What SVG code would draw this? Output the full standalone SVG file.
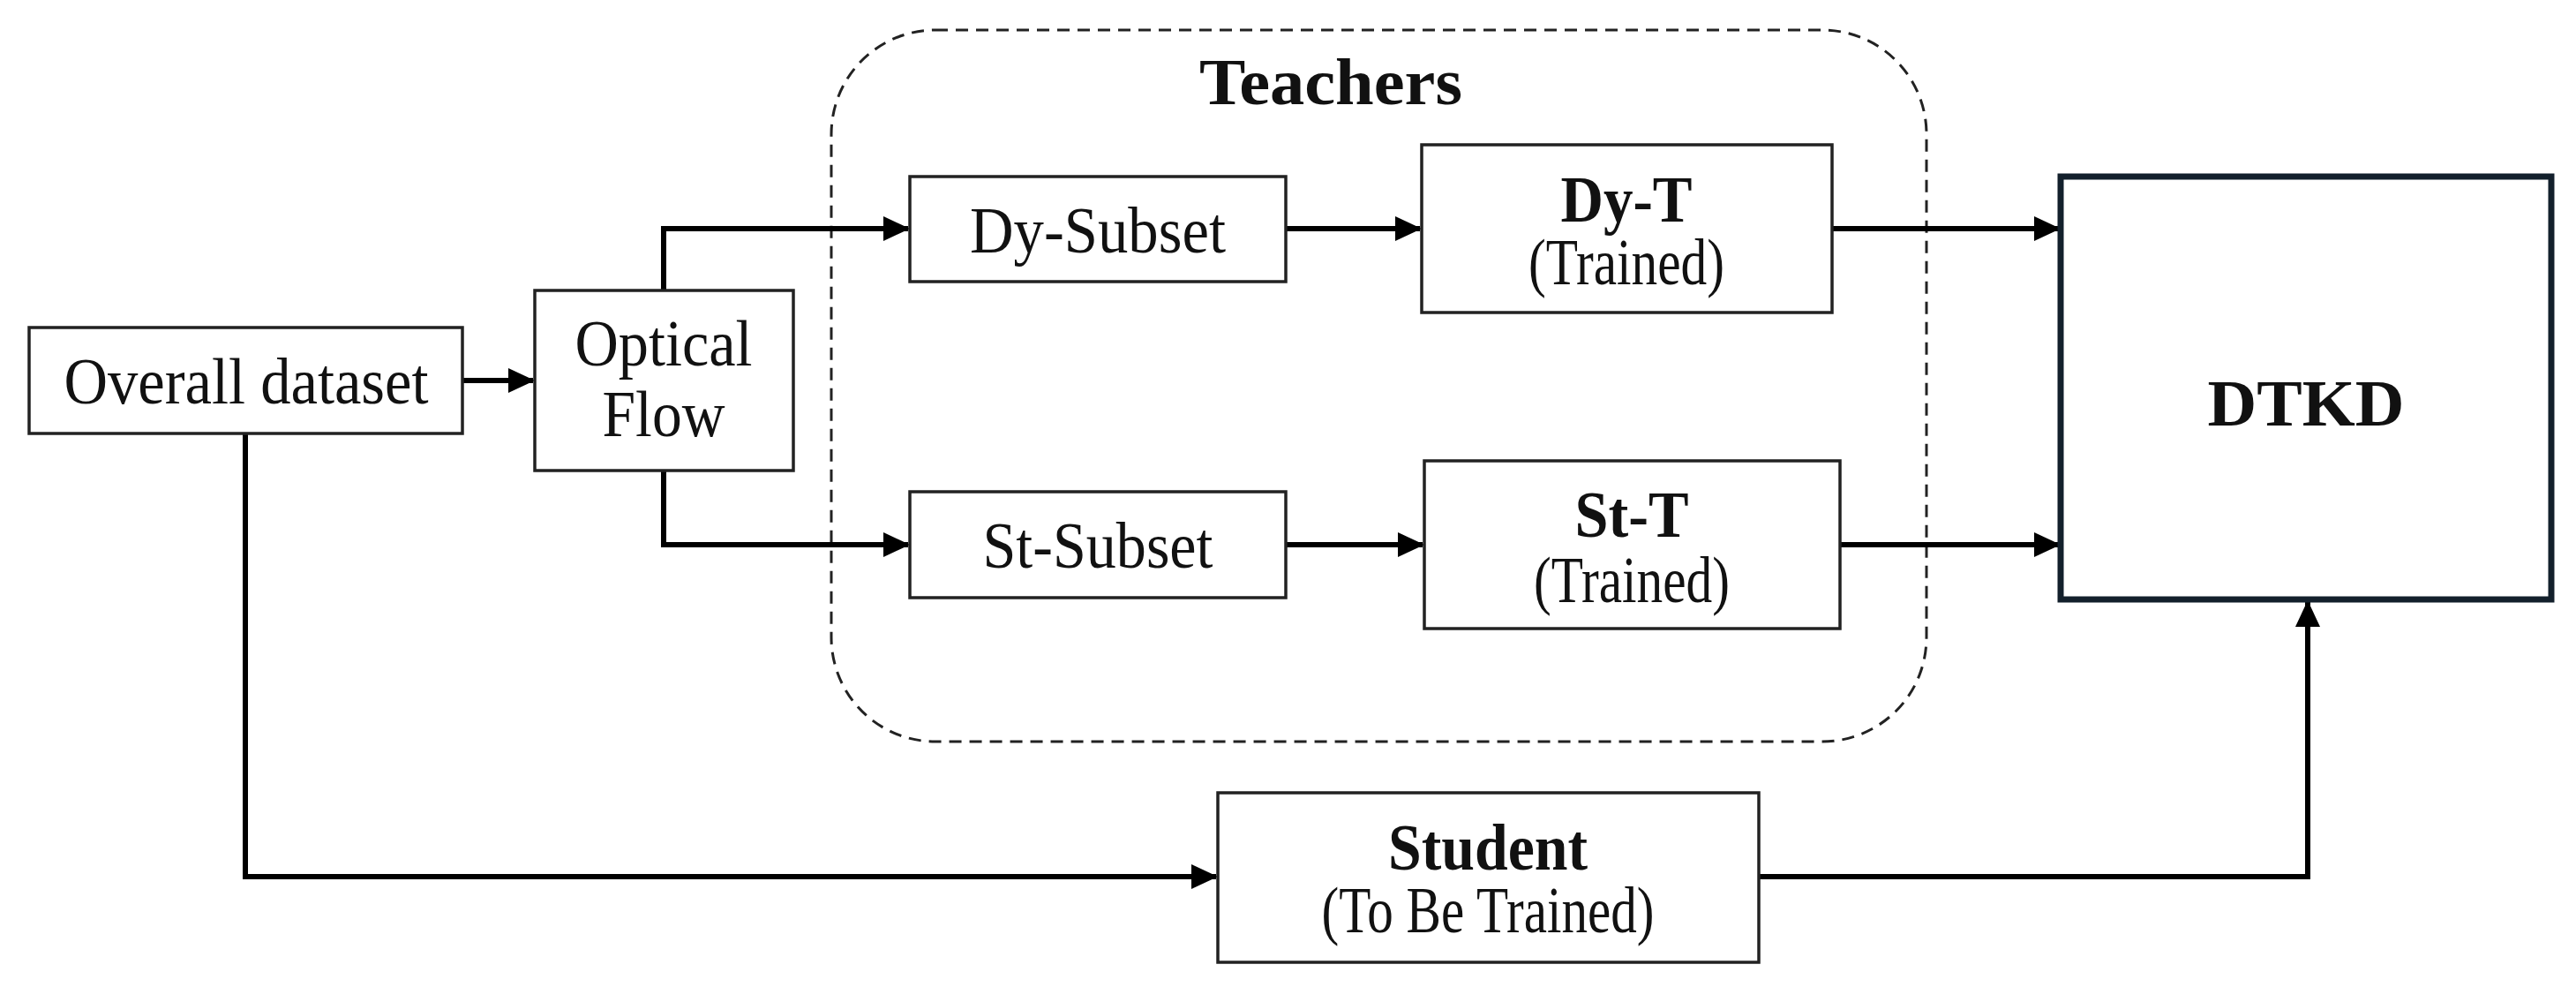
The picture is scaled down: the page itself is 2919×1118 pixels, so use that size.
<svg xmlns="http://www.w3.org/2000/svg" width="2919" height="1118" viewBox="0 0 2919 1118">
<style>
.box{fill:#fff;stroke:#222;stroke-width:3.5}
.t{font-family:"Liberation Serif",serif;font-size:74px;fill:#111;text-anchor:middle}
.b{font-weight:bold}
.c{fill:none;stroke:#000;stroke-width:6;marker-end:url(#ah)}
</style>
<defs>
<marker id="ah" markerUnits="userSpaceOnUse" markerWidth="30" markerHeight="28" refX="28" refY="14" orient="auto">
<path d="M0,0 L30,14 L0,28 Z" fill="#000"/>
</marker>
</defs>
<g id="teachers">
<rect x="942" y="34" width="1241" height="806" rx="118" fill="none" stroke="#222" stroke-width="3" stroke-dasharray="14,9"/>
<text class="t b" x="1508" y="118" font-size="80" textLength="298" lengthAdjust="spacingAndGlyphs">Teachers</text>
</g>
<g id="connectors">
<path class="c" d="M524,431 H604"/>
<path class="c" d="M752,329 V259 H1029"/>
<path class="c" d="M752,533 V617 H1029"/>
<path class="c" d="M1457,259 H1609"/>
<path class="c" d="M1457,617 H1612"/>
<path class="c" d="M2076,259 H2333"/>
<path class="c" d="M2085,617 H2333"/>
<path class="c" d="M278,491 V993 H1378"/>
<path class="c" d="M1993,993 H2615 V682"/>
</g>
<g id="overall"><rect class="box" x="33" y="371" width="491" height="120"/>
<text class="t" x="279" y="457" textLength="413" lengthAdjust="spacingAndGlyphs">Overall dataset</text></g>
<g id="optical"><rect class="box" x="606" y="329" width="293" height="204"/>
<text class="t" x="752" y="414" textLength="201" lengthAdjust="spacingAndGlyphs">Optical</text>
<text class="t" x="752" y="494" textLength="139" lengthAdjust="spacingAndGlyphs">Flow</text></g>
<g id="dysubset"><rect class="box" x="1031" y="200" width="426" height="119"/>
<text class="t" x="1244" y="286" textLength="290" lengthAdjust="spacingAndGlyphs">Dy-Subset</text></g>
<g id="stsubset"><rect class="box" x="1031" y="557" width="426" height="120"/>
<text class="t" x="1244" y="643" textLength="261" lengthAdjust="spacingAndGlyphs">St-Subset</text></g>
<g id="dyt"><rect class="box" x="1611" y="164" width="465" height="190"/>
<text class="t b" x="1843" y="251" textLength="149" lengthAdjust="spacingAndGlyphs">Dy-T</text>
<text class="t" x="1843" y="322" font-size="68" textLength="222" lengthAdjust="spacingAndGlyphs">(Trained)</text></g>
<g id="stt"><rect class="box" x="1614" y="522" width="471" height="190"/>
<text class="t b" x="1849" y="608" textLength="129" lengthAdjust="spacingAndGlyphs">St-T</text>
<text class="t" x="1849" y="682" font-size="68" textLength="222" lengthAdjust="spacingAndGlyphs">(Trained)</text></g>
<g id="dtkd"><rect x="2335" y="200" width="556" height="479" fill="#fff" stroke="#13202c" stroke-width="7"/>
<text class="t b" x="2613" y="482" font-size="88" textLength="223" lengthAdjust="spacingAndGlyphs">DTKD</text></g>
<g id="student"><rect class="box" x="1380" y="898" width="613" height="192"/>
<text class="t b" x="1686" y="985" textLength="226" lengthAdjust="spacingAndGlyphs">Student</text>
<text class="t" x="1686" y="1056" font-size="68" textLength="377" lengthAdjust="spacingAndGlyphs">(To Be Trained)</text></g>
</svg>
